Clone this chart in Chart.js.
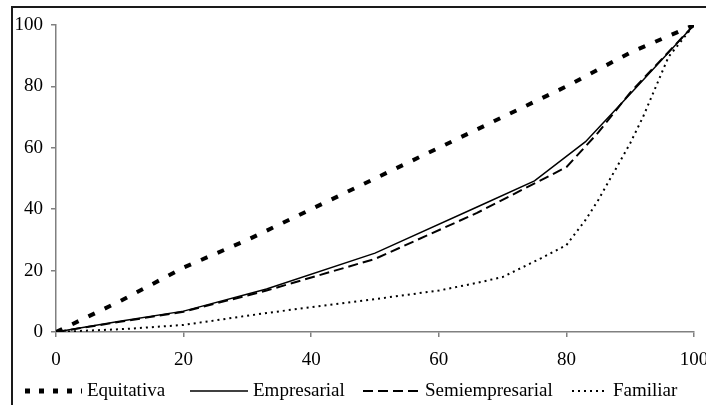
<!DOCTYPE html>
<html>
<head>
<meta charset="utf-8">
<script src="https://cdn.jsdelivr.net/npm/chart.js@4.4.1/dist/chart.umd.min.js"></script>
<style>
  html, body { margin: 0; padding: 0; background: #fff; overflow: hidden; }
  #wrap { position: relative; width: 706px; height: 405px; }
  #frame { position: absolute; left: 11px; top: 6px; width: 800px; height: 500px; border: 2px solid #1a1a1a; box-sizing: border-box; }
  #c { position: absolute; left: 0; top: 0; }
</style>
</head>
<body>
<div id="wrap">
  <div id="frame"></div>
  <canvas id="c" width="706" height="405"></canvas>
</div>
<script>
// Series names
const seriesNames = ["Equitativa", "Empresarial", "Semiempresarial", "Familiar"];

// Equitativa
const equiX = [0, 10, 20, 30, 40, 50, 60, 70, 80, 90, 100];
const equiY = [0, 10, 21, 30, 40, 50, 60, 70, 80, 91, 100];

// Empresarial
const empX = [0, 10, 20, 33, 50, 66, 75, 83, 90, 100];
const empY = [0, 3.5, 6.8, 14, 25.7, 40.7, 49.2, 62, 77.5, 100];

// Semiempresarial
const semiX = [0, 10, 20, 33, 50, 66, 80, 85, 90, 100];
const semiY = [0, 3.3, 6.6, 13.5, 23.8, 38.8, 53.7, 65, 78, 100];

// Familiar
const famX = [0, 11, 20, 33, 51, 60, 66, 70, 76, 80, 83, 85, 90, 92, 96, 100];
const famY = [0, 1, 2.3, 6.2, 11, 13.5, 16, 17.9, 24, 28.3, 36.5, 43, 61.5, 70, 89.6, 100];

// Axis ticks
const xTicks = [0, 20, 40, 60, 80, 100];
const yTicks = [0, 20, 40, 60, 80, 100];

function pts(xs, ys) { return xs.map((x, i) => ({ x: x, y: ys[i] })); }

const FONT = "'Liberation Serif', 'Times New Roman', serif";
Chart.defaults.font.family = FONT;
Chart.defaults.font.size = 19;
Chart.defaults.color = '#000';

// Custom legend drawn under the plot, one item per dataset
const legendLayout = { y: 391, starts: [25, 190, 363, 572], lengths: [57, 58, 57, 36], gap: 5 };
const customLegend = {
  id: 'customLegend',
  afterDraw(chart) {
    const ctx = chart.ctx;
    ctx.save();
    chart.data.datasets.forEach((ds, i) => {
      const x0 = legendLayout.starts[i];
      const len = legendLayout.lengths[i];
      const y = legendLayout.y;
      ctx.beginPath();
      ctx.strokeStyle = ds.borderColor;
      ctx.lineWidth = ds.legendWidth || ds.borderWidth;
      ctx.setLineDash(ds.legendDash || ds.borderDash || []);
      ctx.moveTo(x0, y);
      ctx.lineTo(x0 + len, y);
      ctx.stroke();
      ctx.setLineDash([]);
      ctx.fillStyle = '#000';
      ctx.font = "19px " + FONT;
      ctx.textBaseline = 'middle';
      ctx.textAlign = 'left';
      ctx.fillText(ds.label, x0 + len + legendLayout.gap, y);
    });
    ctx.restore();
  }
};

new Chart(document.getElementById('c'), {
  type: 'scatter',
  data: {
    datasets: [
      { label: seriesNames[0], data: pts(equiX, equiY), showLine: true, borderColor: '#000', backgroundColor: '#000',
        borderWidth: 4, borderDash: [7, 11], legendDash: [5, 9], legendWidth: 5, pointRadius: 0, tension: 0 },
      { label: seriesNames[1], data: pts(empX, empY), showLine: true, borderColor: '#000', backgroundColor: '#000',
        borderWidth: 1.5, borderDash: [], pointRadius: 0, tension: 0 },
      { label: seriesNames[2], data: pts(semiX, semiY), showLine: true, borderColor: '#000', backgroundColor: '#000',
        borderWidth: 2, borderDash: [10, 5], pointRadius: 0, tension: 0 },
      { label: seriesNames[3], data: pts(famX, famY), showLine: true, borderColor: '#000', backgroundColor: '#000',
        borderWidth: 2, borderDash: [2, 4], pointRadius: 0, tension: 0 }
    ]
  },
  options: {
    responsive: false,
    animation: false,
    layout: { padding: { left: 12, right: 12, top: 25, bottom: 29 } },
    plugins: {
      tooltip: { enabled: false },
      legend: { display: false }
    },
    scales: {
      x: {
        type: 'linear',
        min: 0, max: 100,
        afterBuildTicks: (s) => { s.ticks = xTicks.map(v => ({ value: v })); },
        afterFit: (s) => { s.paddingLeft = 0; s.paddingRight = 0; s.height = 44; },
        border: { color: '#808080', width: 1.5 },
        grid: { drawOnChartArea: false, drawTicks: true, tickLength: 5, color: '#808080', lineWidth: 1.5 },
        ticks: { padding: 12, color: '#000', maxRotation: 0, autoSkip: false }
      },
      y: {
        type: 'linear',
        min: 0, max: 100,
        afterBuildTicks: (s) => { s.ticks = yTicks.map(v => ({ value: v })); },
        afterFit: (s) => { s.width = 44; },
        border: { color: '#808080', width: 1.5 },
        grid: { drawOnChartArea: false, drawTicks: true, tickLength: 5, color: '#808080', lineWidth: 1.5 },
        ticks: { padding: 8, color: '#000', autoSkip: false }
      }
    }
  },
  plugins: [customLegend]
});
</script>
</body>
</html>
